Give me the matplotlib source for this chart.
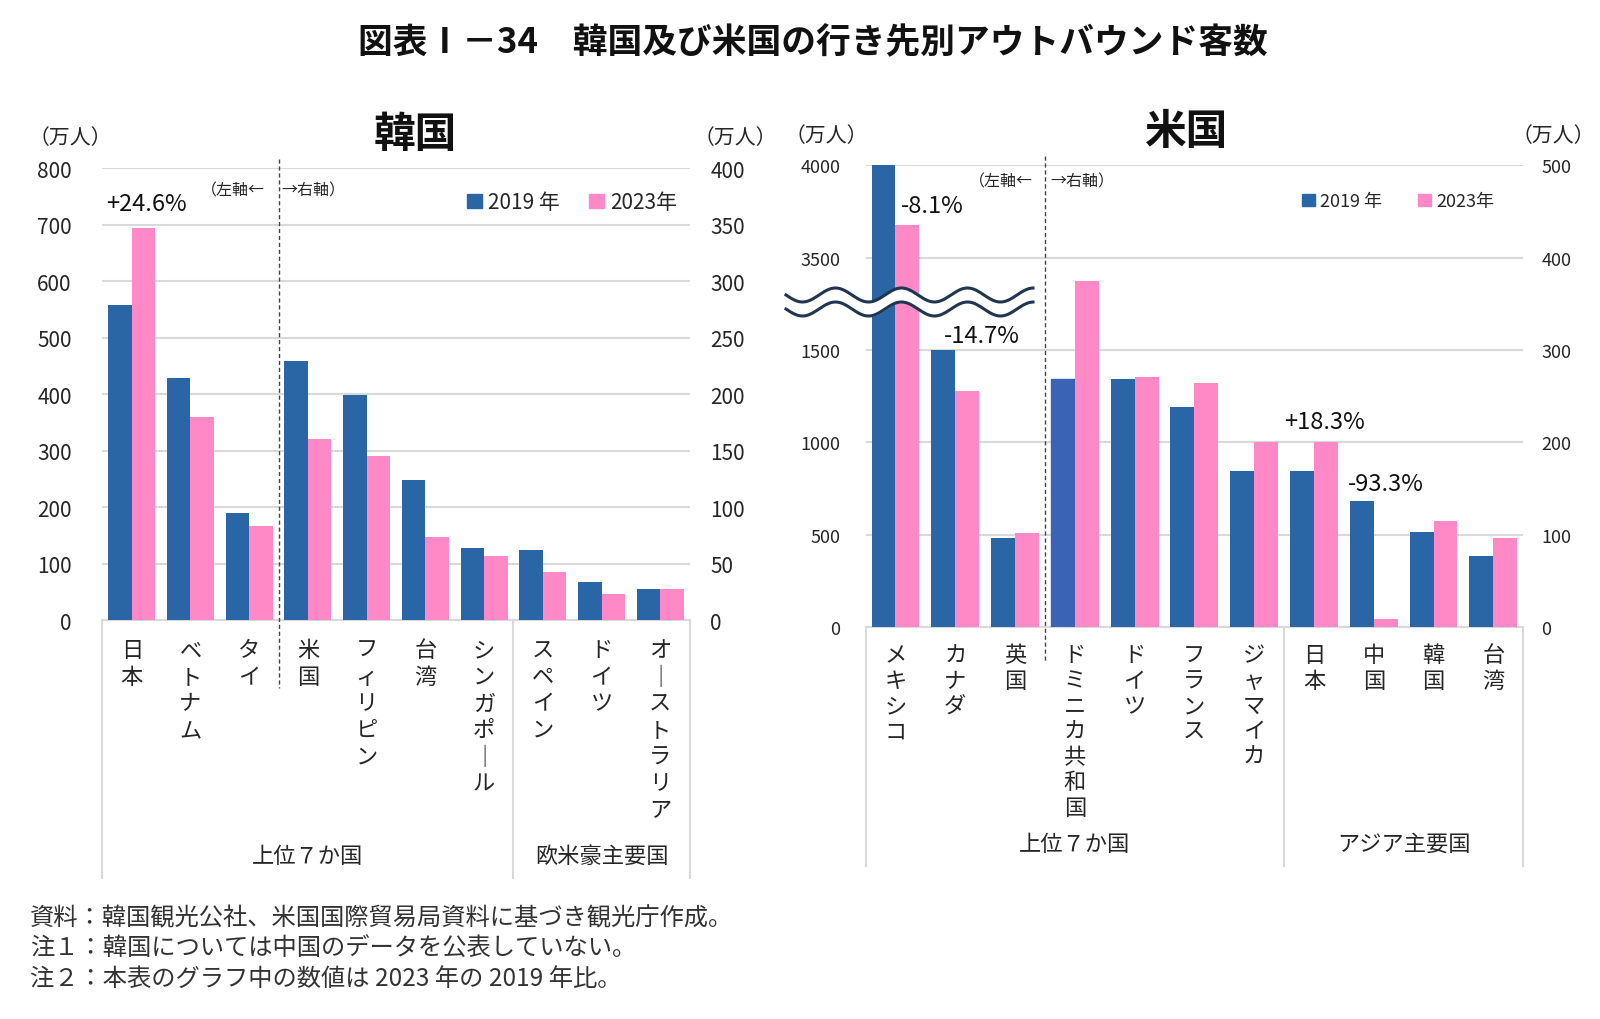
import numpy as np
import matplotlib
matplotlib.use("Agg")
import matplotlib.pyplot as plt
import matplotlib.transforms as mtransforms
from matplotlib.patches import Patch

plt.rcParams['font.family'] = ['Noto Sans CJK JP', 'DejaVu Sans']

BLUE = '#2A65A5'
PINK = '#FF88C6'
GRID = '#D9D9D9'
TXT = '#262626'

# 韓国 (left axis: 日本-タイ, right axis: the rest)
kr_left_names = ['日本', 'ベトナム', 'タイ']
kr_left_2019 = [558, 428, 189]
kr_left_2023 = [695, 359, 167]
kr_right_names = ['米国', 'フィリピン', '台湾', 'シンガポール', 'スペイン', 'ドイツ', 'オーストラリア']
kr_right_2019 = [229, 199, 124, 64, 62, 34, 28]
kr_right_2023 = [160, 145, 74, 57, 43, 23, 28]
kr_groups = ['上位７か国', '欧米豪主要国']

# 米国 (left axis: メキシコ-英国, right axis: the rest)
us_left_names = ['メキシコ', 'カナダ', '英国']
us_left_2019 = [3999, 1500, 484]
us_left_2023 = [3675, 1280, 510]
us_right_names = ['ドミニカ共和国', 'ドイツ', 'フランス', 'ジャマイカ', '日本', '中国', '韓国', '台湾']
us_right_2019 = [269, 269, 238, 169, 169, 137, 103, 77]
us_right_2023 = [375, 271, 264, 201, 200, 9, 115, 97]
us_groups = ['上位７か国', 'アジア主要国']

us_left_ticks = [0, 500, 1000, 1500, 3500, 4000]

notes = ['資料：韓国観光公社、米国国際貿易局資料に基づき観光庁作成。',
         '注１：韓国については中国のデータを公表していない。',
         '注２：本表のグラフ中の数値は 2023 年の 2019 年比。']


def vert(s):
    return '\n'.join(s.replace('ー', '｜'))


# broken axis for the US left scale: squeeze 1700..3320 into a small band
def fwd(v):
    return np.interp(v, [-1e4, 1700, 3320, 1e4], [-1e4, 1700, 1820, 8500])


def inv(f):
    return np.interp(f, [-1e4, 1700, 1820, 8500], [-1e4, 1700, 3320, 1e4])


def panel(rect, lnames, l19, l23, rnames, r19, r23, lmax, lticks, rmax, rticks,
          groups, gsplit, tick_fs, pad_l, pad_r, cat_top, cat_ls, grp_y, line_bottom,
          broken=False):
    ax = fig.add_axes(rect)
    if broken:
        ax.set_yscale('function', functions=(fwd, inv))
    n_l = len(lnames)
    names = lnames + rnames
    n = len(names)
    xl = np.arange(n_l)
    xr = np.arange(n_l, n)
    w = 0.4
    ax.bar(xl - w / 2, l19, w, color=BLUE, zorder=3)
    ax.bar(xl + w / 2, l23, w, color=PINK, zorder=3)
    ax.set_xlim(-0.5, n - 0.5)
    ax.set_ylim(0, lmax)
    ax.set_yticks(lticks)
    ax.set_yticklabels([str(t) for t in lticks])
    ax.grid(axis='y', color=GRID, lw=1.5)
    ax.set_axisbelow(True)
    ax.set_xticks([])
    for s in ['left', 'right', 'top']:
        ax.spines[s].set_visible(False)
    ax.spines['bottom'].set_color(GRID)
    ax.spines['bottom'].set_linewidth(1.5)
    ax.tick_params(axis='y', length=0, labelsize=tick_fs, pad=pad_l, colors=TXT)

    ax2 = ax.twinx()
    b19 = ax2.bar(xr - w / 2, r19, w, color=BLUE, zorder=3)
    ax2.bar(xr + w / 2, r23, w, color=PINK, zorder=3)
    ax2.set_ylim(0, rmax)
    ax2.set_yticks(rticks)
    for s in ['left', 'right', 'top', 'bottom']:
        ax2.spines[s].set_visible(False)
    ax2.tick_params(axis='y', length=0, labelsize=tick_fs, pad=pad_r, colors=TXT)

    tr = mtransforms.blended_transform_factory(ax.transData, ax.transAxes)
    for i, nm in enumerate(names):
        ax2.text(i, cat_top, vert(nm), transform=tr, ha='center', va='top',
                 fontsize=16, linespacing=cat_ls, color=TXT)
    # axis-split dashed line
    ax2.plot([n_l - 0.5, n_l - 0.5], [1.02, line_bottom], transform=tr, color='#444444',
             lw=1, ls=(0, (3, 2)), clip_on=False)
    # group brackets
    for xv in [-0.5, gsplit - 0.5, n - 0.5]:
        ax2.plot([xv, xv], [0, grp_y - 0.05], transform=tr, color=GRID, lw=1.5, clip_on=False)
    ax2.text((gsplit - 1) / 2, grp_y, groups[0], transform=tr, ha='center', va='center',
             fontsize=16, color=TXT)
    ax2.text((gsplit - 0.5 + n - 0.5) / 2, grp_y, groups[1], transform=tr, ha='center',
             va='center', fontsize=16, color=TXT)
    return ax, ax2, b19


fig = plt.figure(figsize=(16, 10.2), dpi=100)

fig.text(0.508, 0.958, '図表Ⅰ－34　韓国及び米国の行き先別アウトバウンド客数', ha='center', va='center',
         fontsize=25, fontweight='bold', color='#111111')

# ---- 韓国 ----
kax, kax2, _ = panel([0.064, 0.391, 0.367, 0.443], kr_left_names, kr_left_2019, kr_left_2023,
                     kr_right_names, kr_right_2019, kr_right_2023,
                     800, list(range(0, 801, 100)), 400, list(range(0, 401, 50)),
                     kr_groups, 7, 15, 22, 15, -0.04, 1.2, -0.52, -0.15)
fig.text(415 / 1600, 1 - 135 / 1020, '韓国', ha='center', va='center', fontsize=30,
         fontweight='bold', color='#111111')
kax.text(-0.055, 1.07, '（万人）', transform=kax.transAxes, ha='center', va='center',
         fontsize=15, color=TXT)
kax.text(1.078, 1.07, '（万人）', transform=kax.transAxes, ha='center', va='center',
         fontsize=15, color=TXT)
kax2.text(0.075, 0.922, '+24.6%', transform=kax.transAxes, ha='center', va='center',
          fontsize=17, color='#111111')
kax2.text(0.222, 0.952, '（左軸←', transform=kax.transAxes, ha='center', va='center',
          fontsize=11.5, color=TXT)
kax2.text(0.36, 0.952, '→右軸）', transform=kax.transAxes, ha='center', va='center',
          fontsize=11.5, color=TXT)
kax2.legend([Patch(color=BLUE), Patch(color=PINK)], ['2019 年', '2023年'], loc='center',
            bbox_to_anchor=(0.80, 0.925), ncol=2, frameon=False, fontsize=15,
            handlelength=0.7, handleheight=0.7, handletextpad=0.3, columnspacing=1.4,
            labelcolor=TXT)

# ---- 米国 ----
ax, ax2, b19 = panel([0.541, 0.384, 0.411, 0.453], us_left_names, us_left_2019, us_left_2023,
                     us_right_names, us_right_2019, us_right_2023,
                     4000, us_left_ticks, 500, list(range(0, 501, 100)),
                     us_groups, 7, 13, 18, 13, -0.035, 1.13, -0.467, -0.077, broken=True)
b19[0].set_color('#3A62B5')
fig.text(1187 / 1600, 1 - 132 / 1020, '米国', ha='center', va='center', fontsize=30,
         fontweight='bold', color='#111111')
ax.text(-0.06, 1.065, '（万人）', transform=ax.transAxes, ha='center', va='center',
        fontsize=15, color=TXT)
ax.text(1.046, 1.065, '（万人）', transform=ax.transAxes, ha='center', va='center',
        fontsize=15, color=TXT)
for txt, xx, yy in [('-8.1%', 0.101, 0.912), ('-14.7%', 0.177, 0.631),
                    ('+18.3%', 0.698, 0.445), ('-93.3%', 0.791, 0.312)]:
    ax2.text(xx, yy, txt, transform=ax.transAxes, ha='center', va='center',
             fontsize=17, color='#111111')
ax2.text(0.205, 0.965, '（左軸←', transform=ax.transAxes, ha='center', va='center',
         fontsize=11.5, color=TXT)
ax2.text(0.33, 0.965, '→右軸）', transform=ax.transAxes, ha='center', va='center',
         fontsize=11.5, color=TXT)
ax2.legend([Patch(color=BLUE), Patch(color=PINK)], ['2019 年', '2023年'], loc='center',
           bbox_to_anchor=(0.81, 0.922), ncol=2, frameon=False, fontsize=13,
           handlelength=0.7, handleheight=0.7, handletextpad=0.3, columnspacing=2.0,
           labelcolor=TXT)

# wavy break mark
xp = np.linspace(786, 1033, 400)
ph = (xp - 786) / 66 * 2 * np.pi + np.pi
yc = 1020 - 303
up = yc + 7 + 7 * np.sin(ph)
lo = yc - 7 + 7 * np.sin(ph)
ax2.fill_between(xp / 1600, lo / 1020, up / 1020, transform=fig.transFigure, color='white',
                 zorder=20, clip_on=False)
ax2.plot(xp / 1600, up / 1020, transform=fig.transFigure, color='#1F3550', lw=2.2,
         zorder=21, clip_on=False)
ax2.plot(xp / 1600, lo / 1020, transform=fig.transFigure, color='#1F3550', lw=2.2,
         zorder=21, clip_on=False)

for i, t in enumerate(notes):
    fig.text(0.019, 1 - (918 + i * 31) / 1020, t, ha='left', va='center', fontsize=17.5,
             color='#333333')

fig.savefig('out.png', dpi=100, facecolor='white')
